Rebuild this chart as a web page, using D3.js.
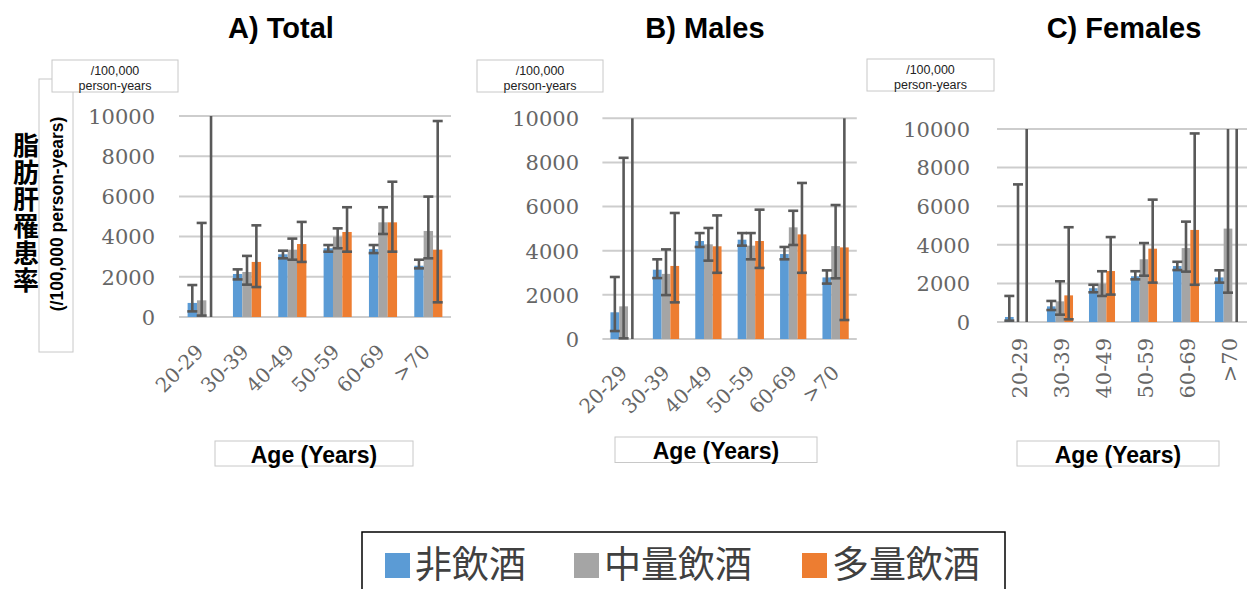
<!DOCTYPE html>
<html><head><meta charset="utf-8">
<script src="https://cdn.jsdelivr.net/npm/d3@7"></script>
<style>html,body{margin:0;padding:0;background:#fff;overflow:hidden}</style>
</head><body>
<svg id="c" width="1247" height="589"></svg>
<script>
const categories = ["20-29","30-39","40-49","50-59","60-69",">70"];
const seriesNames = ["非飲酒","中量飲酒","多量飲酒"];
const yTicks = [0,2000,4000,6000,8000,10000];

const totalNon   = [700, 2140, 3120, 3420, 3380, 2550];
const totalNonLo = [280, 1870, 2920, 3250, 3180, 2420];
const totalNonHi = [1590, 2370, 3300, 3580, 3580, 2850];
const totalMod   = [830, 2240, 3350, 4000, 4710, 4280];
const totalModLo = [70, 1610, 2850, 3420, 4130, 2920];
const totalModHi = [4680, 3040, 3900, 4410, 5460, 5990];
const totalHeavy   = [0, 2740, 3630, 4230, 4710, 3350];
const totalHeavyLo = [0, 1490, 2740, 3250, 3250, 730];
const totalHeavyHi = [15000, 4560, 4730, 5460, 6730, 9750];

const maleNon   = [1210, 3140, 4440, 4500, 3850, 2790];
const maleNonLo = [360, 2760, 4170, 4230, 3610, 2510];
const maleNonHi = [2810, 3610, 4800, 4800, 4170, 3110];
const maleMod   = [1480, 2950, 4290, 4230, 5060, 4210];
const maleModLo = [30, 1990, 3550, 3610, 4260, 2750];
const maleModHi = [8210, 4060, 5030, 4800, 5810, 6070];
const maleHeavy   = [0, 3310, 4200, 4440, 4740, 4150];
const maleHeavyLo = [0, 1660, 3000, 3220, 3000, 860];
const maleHeavyHi = [15000, 5710, 5600, 5860, 7070, 15000];

const femNon   = [260, 810, 1750, 2370, 2900, 2310];
const femNonLo = [70, 620, 1540, 2210, 2690, 2040];
const femNonHi = [1350, 1090, 1930, 2630, 3120, 2680];
const femMod   = [0, 1070, 1990, 3250, 3830, 4840];
const femModLo = [0, 380, 1350, 2400, 2610, 1520];
const femModHi = [7130, 2110, 2630, 4090, 5200, 15000];
const femHeavy   = [0, 1380, 2640, 3800, 4770, 0];
const femHeavyLo = [0, 140, 1420, 2040, 1930, 0];
const femHeavyHi = [15000, 4910, 4400, 6340, 9770, 15000];

const colors = ["#5B9BD5","#A5A5A5","#ED7D31"];

const svg = d3.select("#c");
const CJK = "'Noto Sans CJK JP','Noto Sans CJK SC',sans-serif";
const SANS = "'Liberation Sans',Arial,sans-serif";
const SERIF = "'DejaVu Serif',serif";

const panels = [
  {title:"A) Total", tx:281, x:[179,451], y:[317,116], tickEnd:155, rot:-45, lab:{dx:3,dy:36,fs:20},
   unitBox:[52,60,126,32], ageBox:[215,441,198,25],
   vals:[totalNon,totalMod,totalHeavy], lo:[totalNonLo,totalModLo,totalHeavyLo], hi:[totalNonHi,totalModHi,totalHeavyHi]},
  {title:"B) Males", tx:705, x:[602.4,856.8], y:[339,118.3], tickEnd:579, rot:-45, lab:{dx:5,dy:35,fs:20},
   unitBox:[477,60,126,32], ageBox:[615,437,202,25.5],
   vals:[maleNon,maleMod,maleHeavy], lo:[maleNonLo,maleModLo,maleHeavyLo], hi:[maleNonHi,maleModHi,maleHeavyHi]},
  {title:"C) Females", tx:1124, x:[997,1249], y:[322,129], tickEnd:970, rot:-90, lab:{dx:8.5,dy:16,fs:21},
   unitBox:[867,59,127,32], ageBox:[1017,441,202,25],
   vals:[femNon,femMod,femHeavy], lo:[femNonLo,femModLo,femHeavyLo], hi:[femNonHi,femModHi,femHeavyHi]}
];

svg.append("rect").attr("x",39).attr("y",79).attr("width",34).attr("height",273)
  .attr("fill","none").attr("stroke","#c8c8c8").attr("stroke-width",1);

panels.forEach(p => {
  const x0 = d3.scaleBand().domain(categories).range(p.x).paddingInner(0.38).paddingOuter(0.19);
  const x1 = d3.scaleBand().domain(seriesNames).range([0, x0.bandwidth()]);
  const y = d3.scaleLinear().domain([0,10000]).range(p.y);
  const g = svg.append("g");

  svg.append("text").attr("x",p.tx).attr("y",38).attr("text-anchor","middle")
    .attr("font-family",SANS).attr("font-weight","bold").attr("font-size",29).attr("fill","#000")
    .text(p.title);

  const ub = p.unitBox;
  svg.append("rect").attr("x",ub[0]).attr("y",ub[1]).attr("width",ub[2]).attr("height",ub[3])
    .attr("fill","#fff").attr("stroke","#c8c8c8");
  svg.append("text").attr("x",ub[0]+ub[2]/2).attr("y",ub[1]+15).attr("text-anchor","middle")
    .attr("font-family",SANS).attr("font-size",12.5).attr("fill","#222").text("/100,000");
  svg.append("text").attr("x",ub[0]+ub[2]/2).attr("y",ub[1]+29.5).attr("text-anchor","middle")
    .attr("font-family",SANS).attr("font-size",12.5).attr("fill","#222").text("person-years");

  g.selectAll("line.grid").data(yTicks).join("line")
    .attr("x1",p.x[0]).attr("x2",p.x[1]).attr("y1",d=>y(d)).attr("y2",d=>y(d))
    .attr("stroke","#cdcdcd").attr("stroke-width",2);

  const yAxis = d3.axisLeft(y).tickValues(yTicks).tickSize(0).tickPadding(0).tickFormat(d3.format("d"));
  const ya = svg.append("g").attr("transform",`translate(${p.tickEnd},0)`).call(yAxis);
  ya.select(".domain").remove();
  ya.selectAll("text").attr("font-family",SERIF).attr("font-size",21).attr("fill","#666").attr("dy","0.35em");

  const rows = categories.map((c,i)=>({c,i}));
  const grp = g.selectAll("g.grp").data(rows).join("g").attr("transform",d=>`translate(${x0(d.c)},0)`);
  seriesNames.forEach((s,k)=>{
    grp.append("rect")
      .attr("x",x1(s)).attr("width",x1.bandwidth())
      .attr("y",d=>y(p.vals[k][d.i])).attr("height",d=>y(0)-y(p.vals[k][d.i]))
      .attr("fill",colors[k]);
  });
  seriesNames.forEach((s,k)=>{
    grp.each(function(d){
      const lo = p.lo[k][d.i], hi = p.hi[k][d.i];
      const cx = x1(s)+x1.bandwidth()/2;
      const sel = d3.select(this);
      const yHi = y(Math.min(hi,10000)), yLo = y(Math.max(lo,0));
      sel.append("line").attr("x1",cx).attr("x2",cx).attr("y1",yLo).attr("y2",yHi)
        .attr("stroke","#595959").attr("stroke-width",2.6);
      if (hi <= 10000) sel.append("line").attr("x1",cx-5).attr("x2",cx+5).attr("y1",yHi).attr("y2",yHi)
        .attr("stroke","#595959").attr("stroke-width",2.6);
      if (lo > 0) sel.append("line").attr("x1",cx-5).attr("x2",cx+5).attr("y1",yLo).attr("y2",yLo)
        .attr("stroke","#595959").attr("stroke-width",2.6);
    });
  });

  const xa = svg.append("g");
  xa.selectAll("text").data(categories).join("text")
    .attr("transform",d=>`translate(${x0(d)+x0.bandwidth()/2+p.lab.dx},${p.y[0]+p.lab.dy}) rotate(${p.rot})`)
    .attr("text-anchor","end").attr("font-family",SERIF).attr("font-size",p.lab.fs).attr("fill","#666")
    .text(d=>d);

  const ab = p.ageBox;
  svg.append("rect").attr("x",ab[0]).attr("y",ab[1]).attr("width",ab[2]).attr("height",ab[3])
    .attr("fill","#fff").attr("stroke","#c8c8c8");
  svg.append("text").attr("x",ab[0]+ab[2]/2).attr("y",ab[1]+ab[3]-3.5).attr("text-anchor","middle")
    .attr("font-family",SANS).attr("font-weight","bold").attr("font-size",23).attr("fill","#000")
    .text("Age (Years)");
});

svg.append("text").attr("transform","translate(63,214) rotate(-90)").attr("text-anchor","middle")
  .attr("font-family",SANS).attr("font-weight","bold").attr("font-size",17.5).attr("fill","#000")
  .text("(/100,000 person-years)");

// vertical CJK axis title as one text in vertical writing mode
svg.append("text").attr("x",26).attr("y",132)
  .style("writing-mode","vertical-rl").style("text-orientation","upright")
  .attr("letter-spacing",1)
  .attr("font-family",CJK).attr("font-weight","bold").attr("font-size",26).attr("fill","#000")
  .text("脂肪肝罹患率");

svg.append("rect").attr("x",362).attr("y",532).attr("width",643).attr("height",62)
  .attr("fill","#fff").attr("stroke","#000").attr("stroke-width",1.5);
const legX = [385, 574, 802];
seriesNames.forEach((s,k)=>{
  svg.append("rect").attr("x",legX[k]).attr("y",553).attr("width",25).attr("height",25).attr("fill",colors[k]);
  svg.append("text").attr("x",legX[k]+30).attr("y",578).attr("font-family",CJK).attr("font-size",37)
    .attr("fill","#404040").text(s);
});
</script>
</body></html>
